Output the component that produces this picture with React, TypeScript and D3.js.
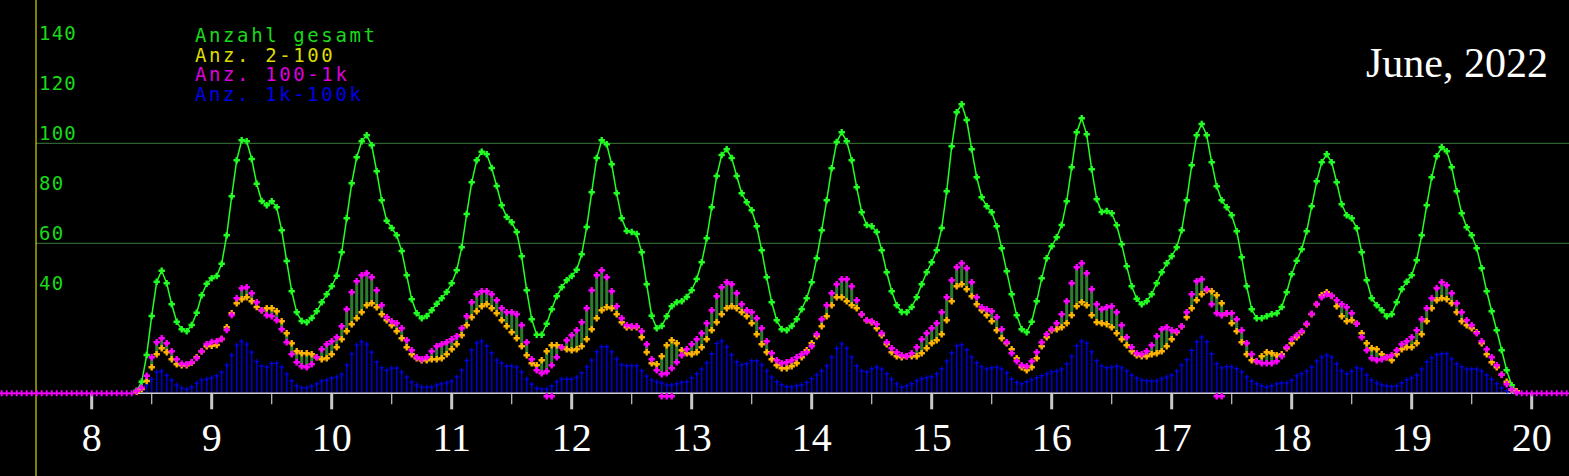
import React from 'react';
import * as d3 from 'd3';

const WIDTH = 1569;
const HEIGHT = 476;

// sampling: one reading every 2.5 minutes, first reading at 08:22:30
const seriesStart = '08:22:30';
const stepMinutes = 2.5;

// "Anzahl gesamt"
const totalAll = [
  1.0, 4.6, 15.3, 30.9, 44.6, 49.0, 44.0, 35.6, 28.6, 25.6, 24.8, 27.3, 32.2, 39.2, 43.8,
  46.0, 46.9, 51.8, 63.2, 78.8, 93.2, 101.2, 100.8, 93.7, 83.8, 76.9, 75.2, 76.8, 74.4, 65.2, 52.9, 40.8, 32.4, 28.9, 28.4, 30.1, 32.8, 36.4, 39.6,
  42.8, 47.0, 56.4, 70.0, 84.0, 94.4, 100.8, 103.2, 99.2, 88.8, 77.2, 69.0, 66.1, 63.2, 56.9, 47.2, 37.6, 32.0, 30.0, 30.9, 33.2, 35.8, 38.0, 40.5,
  44.0, 49.2, 58.4, 71.7, 84.4, 93.2, 96.6, 95.6, 90.1, 82.9, 75.2, 70.5, 68.4, 64.5, 54.8, 41.2, 29.6, 23.4, 23.4, 27.8, 33.6, 38.8, 42.4, 45.2,
  46.9, 49.4, 55.6, 66.5, 80.4, 94.1, 101.2, 99.6, 91.6, 80.0, 70.0, 64.9, 64.5, 63.7, 56.4, 43.6, 31.0, 26.0, 26.9, 30.8, 34.8, 36.4, 36.8, 38.5,
  41.2, 45.7, 52.4, 62.0, 74.4, 86.9, 95.3, 97.6, 94.1, 86.9, 80.0, 76.4, 73.2, 66.8, 57.2, 46.4, 36.4, 29.2, 25.6, 25.2, 26.9, 29.6, 33.6, 38.0,
  44.4, 54.0, 65.2, 77.2, 90.0, 100.5, 104.4, 100.8, 93.2, 82.4, 72.4, 67.3, 66.8, 64.5, 57.2, 48.4, 40.8, 35.2, 32.5, 32.4, 34.5, 38.4, 43.6, 48.4,
  52.4, 57.2, 66.1, 80.8, 98.8, 112.4, 115.6, 109.3, 97.6, 86.4, 78.4, 74.8, 72.4, 66.8, 58.0, 48.8, 39.6, 31.2, 25.6, 24.4, 28.6, 36.8, 46.0, 54.0,
  58.8, 62.4, 67.3, 76.8, 90.4, 104.4, 110.0, 103.6, 89.6, 77.6, 72.5, 72.9, 72.0, 67.2, 59.6, 50.8, 42.8, 37.8, 35.6, 36.8, 39.6, 44.0, 48.4, 52.0,
  54.8, 58.4, 65.2, 77.2, 91.2, 103.2, 107.7, 103.2, 92.4, 82.8, 77.2, 74.4, 71.2, 64.8, 54.4, 42.8, 33.6, 30.0, 30.0, 30.8, 31.6, 32.0, 34.5, 40.4,
  47.6, 53.0, 57.6, 64.8, 74.8, 84.8, 92.4, 95.6, 92.4, 84.4, 75.6, 71.2, 70.0, 66.0, 56.4, 45.2, 38.0, 35.2, 33.2, 30.8, 31.6, 36.4, 41.6, 44.6,
  47.2, 53.2, 63.2, 75.2, 86.4, 94.8, 98.4, 96.8, 90.4, 80.8, 72.0, 66.4, 63.2, 58.0, 50.0, 40.8, 32.8, 25.2, 17.2, 9.2, 3.2, 0.8,
];

// "Anz. 2-100"
const count2to100 = [
  0.6, 1.7, 4.9, 10.4, 15.6, 18.0, 16.4, 13.6, 11.6, 11.2, 11.2, 12.2, 14.4, 16.8, 18.8,
  19.0, 19.3, 21.7, 26.4, 32.0, 36.0, 37.6, 38.4, 36.8, 34.5, 33.2, 34.0, 34.0, 32.8, 28.8, 24.0, 20.0, 16.8, 16.0, 16.0, 15.6, 14.4, 13.6, 14.0,
  15.6, 18.4, 21.6, 24.8, 27.6, 30.0, 32.4, 35.2, 36.0, 34.4, 31.6, 29.2, 27.2, 24.8, 22.0, 18.4, 15.6, 14.0, 13.2, 13.2, 13.6, 13.6, 14.0, 15.6,
  17.6, 19.6, 23.2, 27.2, 30.4, 32.8, 34.8, 35.6, 34.0, 32.0, 29.2, 26.8, 24.4, 22.0, 18.8, 15.2, 12.0, 11.2, 13.2, 16.8, 19.2, 19.2, 18.4, 17.6,
  17.2, 17.6, 18.8, 21.6, 25.6, 30.0, 33.2, 34.4, 34.0, 31.6, 28.4, 26.4, 26.4, 26.4, 22.4, 16.4, 12.0, 11.6, 14.8, 19.2, 21.2, 20.0, 17.2, 16.0,
  15.6, 16.4, 18.4, 21.6, 25.2, 28.4, 31.6, 34.0, 34.8, 34.0, 32.4, 30.8, 28.0, 23.6, 19.6, 16.4, 13.6, 11.2, 10.0, 10.0, 10.8, 12.0, 14.4, 17.2,
  20.0, 22.8, 26.8, 30.8, 35.2, 38.4, 38.4, 36.8, 35.2, 34.0, 31.6, 29.2, 28.4, 26.0, 23.2, 19.6, 16.4, 14.8, 14.4, 14.8, 14.8, 14.8, 16.0, 18.0,
  20.0, 21.2, 23.6, 29.2, 36.8, 42.8, 43.6, 41.6, 38.8, 35.6, 33.2, 31.2, 28.8, 25.2, 22.0, 20.0, 17.6, 14.0, 10.4, 9.2, 10.4, 14.0, 18.8, 22.4,
  25.2, 25.6, 26.4, 28.0, 31.2, 34.8, 36.4, 35.2, 31.2, 28.4, 28.0, 27.6, 26.4, 24.0, 21.6, 19.2, 16.8, 15.2, 14.8, 14.8, 15.6, 16.0, 16.8, 18.8,
  21.6, 24.4, 26.8, 30.4, 34.0, 37.2, 39.6, 41.2, 40.8, 39.2, 36.0, 32.0, 28.0, 24.8, 20.4, 15.6, 13.2, 12.8, 14.8, 16.4, 16.0, 15.2, 15.6, 18.0,
  20.0, 22.4, 24.4, 27.6, 31.6, 35.6, 39.2, 40.4, 38.9, 34.8, 30.8, 28.8, 29.2, 27.8, 24.0, 20.0, 18.0, 17.6, 15.6, 14.4, 13.2, 15.6, 17.6, 18.4,
  18.4, 20.0, 23.6, 28.8, 34.0, 37.2, 38.0, 37.6, 36.0, 32.4, 28.8, 27.2, 26.0, 24.4, 20.0, 15.6, 12.4, 10.4, 7.4, 4.6, 1.4, 0.8,
];

// "Anz. 100-1k"
const count100to1k = [
  0.9, 2.2, 7.0, 14.4, 20.4, 22.0, 20.0, 16.8, 13.6, 11.8, 11.6, 12.4, 14.1, 16.8, 19.6,
  20.5, 20.8, 21.7, 25.3, 31.3, 38.0, 42.0, 42.4, 40.0, 36.4, 33.2, 31.2, 30.8, 29.2, 25.6, 20.4, 15.6, 12.4, 10.8, 10.4, 11.6, 14.4, 17.6, 19.6,
  20.8, 22.4, 26.8, 33.6, 40.4, 44.8, 47.2, 48.0, 46.4, 41.2, 35.2, 30.4, 28.8, 28.0, 26.0, 21.2, 17.2, 14.4, 13.6, 14.4, 16.8, 18.8, 19.6, 20.4,
  21.6, 22.8, 26.0, 30.8, 36.4, 39.6, 40.8, 40.8, 39.6, 37.2, 34.0, 32.4, 32.4, 31.6, 27.2, 20.4, 13.6, 9.2, 8.0, 8.8, 11.2, 14.4, 18.4, 21.2,
  23.2, 25.2, 28.4, 34.0, 41.2, 47.2, 49.2, 46.4, 40.8, 34.8, 30.0, 27.2, 26.8, 26.8, 24.8, 19.6, 13.6, 9.2, 7.6, 8.0, 10.0, 12.4, 15.2, 17.6,
  19.6, 21.6, 24.0, 28.0, 33.2, 38.8, 42.4, 44.4, 43.6, 40.0, 35.6, 33.2, 32.4, 30.0, 26.0, 20.8, 16.0, 13.2, 12.0, 12.4, 13.2, 14.4, 15.6, 16.4,
  18.8, 23.6, 29.6, 35.2, 40.0, 43.6, 45.6, 45.6, 42.8, 37.2, 31.6, 29.2, 28.8, 27.6, 24.0, 20.4, 18.0, 16.4, 15.2, 14.8, 16.0, 18.4, 21.6, 24.0,
  26.0, 28.0, 32.4, 38.4, 45.2, 50.4, 52.0, 50.0, 44.4, 38.4, 34.4, 33.6, 32.8, 30.4, 25.6, 20.4, 16.0, 12.8, 11.2, 10.8, 12.8, 16.4, 20.4, 23.6,
  25.6, 28.0, 31.6, 36.8, 44.0, 50.4, 52.0, 48.0, 41.6, 35.6, 33.6, 34.4, 34.8, 32.4, 27.2, 22.4, 18.4, 16.0, 15.6, 16.8, 19.2, 22.8, 25.6, 26.4,
  25.2, 24.8, 26.8, 32.4, 39.6, 44.8, 45.6, 41.6, 35.6, 32.0, 31.2, 32.0, 32.0, 29.6, 25.2, 20.0, 15.6, 12.8, 12.0, 12.0, 12.0, 12.8, 14.8, 18.4,
  21.6, 23.2, 24.8, 27.8, 31.8, 35.7, 38.4, 39.6, 39.0, 37.2, 35.6, 34.4, 32.0, 27.8, 22.4, 17.2, 14.0, 13.2, 13.6, 14.4, 15.2, 17.2, 19.6, 20.8,
  22.4, 25.2, 29.6, 34.0, 38.0, 42.0, 44.4, 43.2, 40.0, 36.0, 32.4, 29.2, 27.2, 24.0, 20.8, 17.6, 14.4, 11.2, 7.4, 3.6, 1.6, 0.3,
];

// "Anz. 1k-100k"
const count1kto100k = [
  0.5, 2.0, 3.3, 5.6, 8.5, 8.9, 7.2, 5.3, 3.3, 2.1, 1.7, 2.5, 4.1, 5.3, 5.7,
  6.2, 7.0, 8.5, 11.3, 15.3, 19.3, 20.8, 19.7, 16.5, 12.8, 10.9, 10.5, 11.9, 12.1, 10.5, 7.7, 5.0, 3.0, 2.2, 2.2, 2.9, 3.8, 4.9, 5.3,
  6.1, 6.5, 7.6, 11.3, 15.8, 19.3, 20.6, 19.7, 16.5, 12.5, 10.2, 9.3, 10.1, 10.1, 8.5, 6.5, 4.5, 3.3, 2.5, 2.5, 2.5, 3.3, 3.8, 4.2,
  4.9, 6.5, 9.3, 13.2, 17.3, 20.2, 20.9, 19.0, 16.2, 13.3, 12.1, 10.9, 10.9, 10.5, 8.6, 5.7, 3.7, 2.1, 1.7, 1.7, 2.9, 4.6, 5.7, 5.7,
  5.7, 6.4, 8.2, 10.6, 13.3, 16.6, 18.6, 18.6, 16.6, 13.8, 11.4, 11.0, 11.0, 11.0, 9.0, 6.9, 5.3, 4.6, 4.1, 3.3, 3.3, 3.8, 4.4, 4.6,
  6.2, 7.8, 9.7, 12.2, 15.8, 20.0, 21.0, 18.6, 15.4, 12.6, 11.4, 11.8, 13.0, 13.0, 11.4, 9.0, 6.5, 4.6, 3.4, 2.6, 2.5, 3.0, 3.4, 4.4,
  5.8, 7.4, 9.0, 11.0, 14.5, 18.0, 19.8, 18.1, 14.5, 11.0, 9.0, 8.6, 9.8, 10.5, 9.7, 7.8, 5.7, 3.8, 2.5, 3.0, 3.8, 5.0, 5.8, 6.2,
  6.6, 7.8, 9.8, 12.9, 16.2, 19.0, 19.4, 17.4, 14.5, 12.2, 10.6, 9.7, 10.2, 10.5, 9.7, 8.2, 5.7, 4.4, 3.8, 4.6, 5.4, 6.2, 7.0, 7.8,
  8.6, 8.9, 9.7, 11.8, 14.8, 19.0, 20.9, 20.1, 16.6, 13.0, 10.9, 10.2, 10.5, 10.9, 10.2, 8.9, 7.3, 6.1, 5.3, 5.0, 4.9, 5.0, 5.8, 6.5,
  7.3, 8.9, 11.3, 13.4, 17.2, 20.6, 22.5, 20.6, 15.8, 11.8, 10.2, 10.6, 10.6, 9.8, 8.6, 6.5, 4.9, 3.8, 3.0, 2.5, 3.0, 3.8, 4.1, 4.2,
  5.3, 7.0, 7.8, 8.9, 10.5, 12.9, 14.5, 15.3, 14.5, 11.8, 9.0, 7.8, 8.9, 10.2, 9.7, 7.3, 5.3, 4.2, 3.4, 3.0, 2.6, 3.0, 4.2, 5.4,
  6.2, 7.3, 9.7, 12.6, 14.2, 15.4, 15.8, 15.8, 13.8, 11.8, 10.6, 9.7, 9.7, 9.7, 8.9, 7.3, 5.7, 3.8, 2.2, 1.0, 0.5, 0,
];

// zero readings drawn on the baseline outside the active period
const quietBefore = 27;
const quietAfter = 10;

// extra "100-1k" marks just under the baseline
const lowMarkTimes = ['11:47:30', '11:50', '12:45', '12:47:30', '12:50', '17:22:30', '17:25'];
const lowMarkValue = -1.2;

const hourLabels = [8, 9, 10, 11, 12, 13, 14, 15, 16, 17, 18, 19, 20];
const halfHours = [8.5, 9.5, 10.5, 11.5, 12.5, 13.5, 14.5, 15.5, 16.5, 17.5, 18.5, 19.5];
const yTickLabels = [40, 60, 80, 100, 120, 140];
const gridValues = [60, 100];
const legendLabels = ['Anzahl gesamt', 'Anz. 2-100', 'Anz. 100-1k', 'Anz. 1k-100k'];
const title = 'June, 2022';

const COLORS = {
  total: '#22ff22',
  c2: '#ffb400',
  c100: '#ff00ff',
  c1k: '#0000ff',
  stem: '#0000c8',
  pair: '#2e7d2e',
  grid: '#3a7a3a',
  axis: '#ffff00',
  base: '#cfcfcf',
  legend: ['#19d919', '#dcdc00', '#dc00dc', '#0000e6'],
};

const toHours = (s: string) => {
  const [h, m, sec] = s.split(':').map(Number);
  return h + (m || 0) / 60 + (sec || 0) / 3600;
};

const plusPath = (r: number) => `M${-r},0H${r}M0,${-r}V${r}`;

export default function App() {
  const x = d3.scaleLinear().domain([8, 20]).range([91.7, 1531.7]);
  const y = d3.scaleLinear().domain([0, 100]).range([393.3, 143.3]);

  const t0 = toHours(seriesStart);
  const step = stepMinutes / 60;
  const timeAt = (k: number) => t0 + k * step;
  const n = totalAll.length;
  const tEnd = timeAt(n - 1);

  const quiet = [
    ...d3.range(quietBefore).map((j) => t0 - (j + 1) * step),
    ...d3.range(quietAfter).map((j) => tEnd + (j + 1) * step),
  ];

  const totalPts = totalAll.map((v, k) => [x(timeAt(k)), y(v)] as [number, number]);
  const line = d3.line();
  const y0 = y(0);
  const axisX = x(7.536);

  return (
    <svg
      width={WIDTH}
      height={HEIGHT}
      style={{ position: 'absolute', left: 0, top: 0, display: 'block', background: '#000' }}
    >
      <rect width={WIDTH} height={HEIGHT} fill="#000" />

      {/* grid lines */}
      {gridValues.map((g) => (
        <line key={g} x1={axisX} x2={WIDTH} y1={y(g)} y2={y(g)} stroke={COLORS.grid} strokeWidth={1} />
      ))}

      {/* y axis */}
      <line x1={axisX} x2={axisX} y1={0} y2={HEIGHT} stroke={COLORS.axis} strokeWidth={1} />
      {yTickLabels.map((v) => (
        <text
          key={v}
          x={axisX + 3}
          y={y(v) - 3}
          fill={COLORS.legend[0]}
          fontFamily="'DejaVu Sans Mono', monospace"
          fontSize={19}
          letterSpacing={1.2}
        >
          {v}
        </text>
      ))}

      {/* 1k-100k stems */}
      {count1kto100k.map((v, k) => (
        <line
          key={`s${k}`}
          x1={x(timeAt(k))}
          x2={x(timeAt(k))}
          y1={y0}
          y2={y(v)}
          stroke={COLORS.stem}
          strokeWidth={1.6}
        />
      ))}

      {/* baseline and time ticks */}
      <line x1={x(t0)} x2={x(tEnd)} y1={y0} y2={y0} stroke={COLORS.base} strokeWidth={1.5} />
      {hourLabels.map((h) => (
        <rect key={`h${h}`} x={x(h) - 1.5} y={y0} width={3} height={16} fill="#c8c8c8" />
      ))}
      {halfHours.map((h) => (
        <line key={`hh${h}`} x1={x(h)} x2={x(h)} y1={y0} y2={y0 + 11} stroke="#c8c8c8" strokeWidth={1.2} />
      ))}
      {hourLabels.map((h) => (
        <text
          key={`l${h}`}
          x={x(h)}
          y={451}
          fill="#fff"
          textAnchor="middle"
          fontFamily="'Liberation Serif', 'Times New Roman', serif"
          fontSize={40}
        >
          {h}
        </text>
      ))}

      {/* connecting bars between 2-100 and 100-1k */}
      {count2to100.map((v, k) => (
        <line
          key={`p${k}`}
          x1={x(timeAt(k))}
          x2={x(timeAt(k))}
          y1={y(v)}
          y2={y(count100to1k[k])}
          stroke={COLORS.pair}
          strokeWidth={3}
        />
      ))}

      {/* total line */}
      <path d={line(totalPts) || ''} fill="none" stroke={COLORS.total} strokeWidth={1.5} />
      {totalPts.map(([px, py], k) => (
        <path key={`g${k}`} transform={`translate(${px},${py})`} d={plusPath(3.2)} stroke={COLORS.total} strokeWidth={2.4} />
      ))}

      {/* 1k-100k markers */}
      {count1kto100k.map((v, k) => (
        <path key={`b${k}`} transform={`translate(${x(timeAt(k))},${y(v)})`} d={plusPath(2.5)} stroke={COLORS.c1k} strokeWidth={1} />
      ))}
      {quiet.map((t, k) => (
        <path key={`bq${k}`} transform={`translate(${x(t)},${y0})`} d={plusPath(2.5)} stroke={COLORS.c1k} strokeWidth={1} />
      ))}

      {/* 2-100 markers */}
      {count2to100.map((v, k) => (
        <path key={`o${k}`} transform={`translate(${x(timeAt(k))},${y(v)})`} d={plusPath(3.2)} stroke={COLORS.c2} strokeWidth={2.4} />
      ))}

      {/* 100-1k markers */}
      {count100to1k.map((v, k) => (
        <path key={`m${k}`} transform={`translate(${x(timeAt(k))},${y(v)})`} d={plusPath(3.2)} stroke={COLORS.c100} strokeWidth={2.4} />
      ))}
      {quiet.map((t, k) => (
        <path key={`mq${k}`} transform={`translate(${x(t)},${y0})`} d={plusPath(3)} stroke={COLORS.c100} strokeWidth={1.8} />
      ))}
      {lowMarkTimes.map((s) => (
        <path key={`lm${s}`} transform={`translate(${x(toHours(s))},${y(lowMarkValue)})`} d={plusPath(3.2)} stroke={COLORS.c100} strokeWidth={2.4} />
      ))}

      {/* legend */}
      {legendLabels.map((label, k) => (
        <text
          key={label}
          x={195}
          y={42 + k * 19.7}
          fill={COLORS.legend[k]}
          fontFamily="'DejaVu Sans Mono', monospace"
          fontSize={19}
          letterSpacing={2.6}
        >
          {label}
        </text>
      ))}

      {/* title */}
      <text
        x={1548}
        y={77}
        fill="#fff"
        textAnchor="end"
        fontFamily="'Liberation Serif', 'Times New Roman', serif"
        fontSize={42}
      >
        {title}
      </text>
    </svg>
  );
}
